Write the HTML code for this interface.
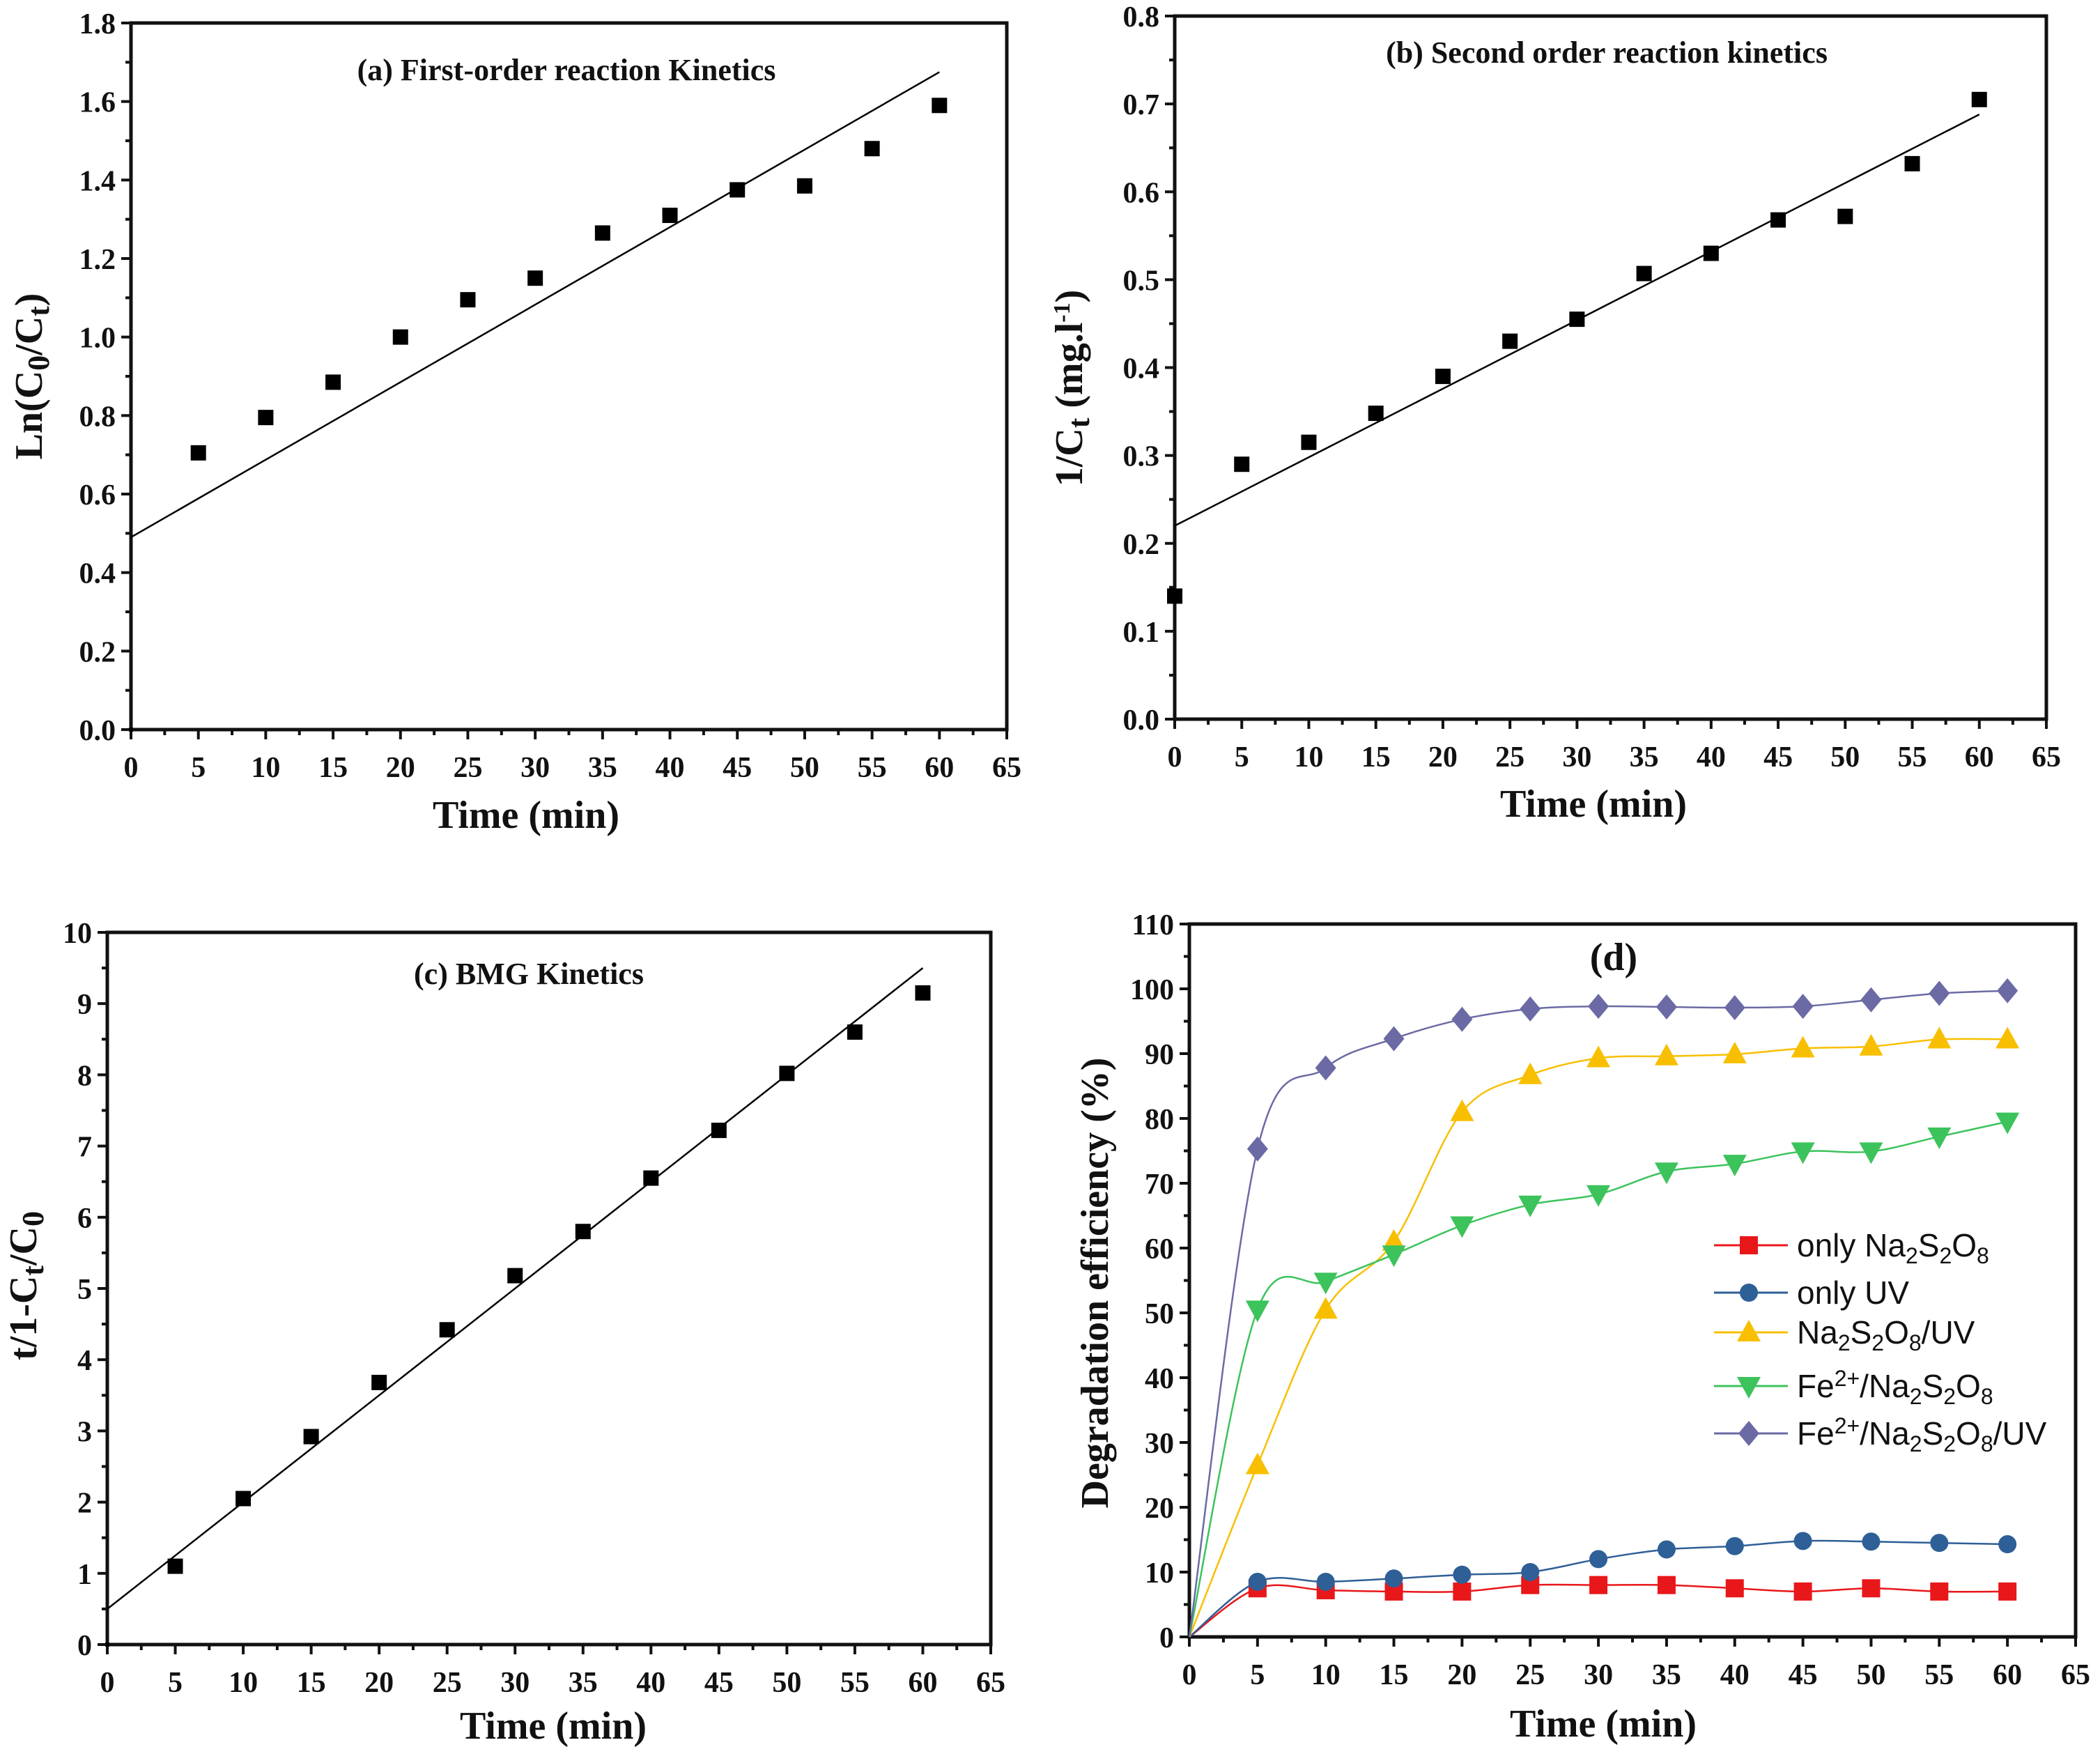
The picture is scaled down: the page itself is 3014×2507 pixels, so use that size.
<!DOCTYPE html>
<html><head><meta charset="utf-8">
<style>
html,body{margin:0;padding:0;background:#fff;}
svg{display:block;}
.tk{font-family:"Liberation Serif",serif;font-weight:bold;font-size:42px;fill:#111;}
.ax{font-family:"Liberation Serif",serif;font-weight:bold;font-size:56px;fill:#111;}
.ti{font-family:"Liberation Serif",serif;font-weight:bold;font-size:44px;fill:#111;}
.lg{font-family:"Liberation Sans",sans-serif;font-size:46px;fill:#111;}
</style></head>
<body>
<svg id="fig" width="3014" height="2507" viewBox="0 0 3014 2507" xmlns="http://www.w3.org/2000/svg"></svg>
<script>
// ---- data ----
const timeA = [0,5,10,15,20,25,30,35,40,45,50,55,60];
const valuesA = [0,0.705,0.795,0.885,1.0,1.095,1.15,1.265,1.31,1.375,1.385,1.48,1.59];
const fitA = [0.49,1.675];
const timeB = [0,5,10,15,20,25,30,35,40,45,50,55,60];
const valuesB = [0.14,0.29,0.315,0.348,0.39,0.43,0.455,0.507,0.53,0.568,0.572,0.632,0.705];
const fitB = [0.22,0.688];
const timeC = [0,5,10,15,20,25,30,35,40,45,50,55,60];
const valuesC = [0,1.1,2.05,2.92,3.68,4.42,5.18,5.8,6.55,7.22,8.02,8.6,9.15];
const fitC = [0.5,9.5];
const timeD = [0,5,10,15,20,25,30,35,40,45,50,55,60];
const onlyNa = [0,7.5,7.2,7,7,8,8,8,7.5,7,7.5,7,7];
const onlyUV = [0,8.5,8.5,9,9.6,10,12,13.5,14,14.8,14.7,14.5,14.3];
const naUV = [0,26.5,50.5,61,81,86.7,89.3,89.6,89.9,90.8,91.1,92.2,92.2];
const feNa = [0,50.5,54.8,59,63.5,66.7,68.3,71.8,73,74.9,74.9,77.2,79.5];
const feNaUV = [0,75.3,87.8,92.3,95.3,96.9,97.3,97.2,97.1,97.3,98.3,99.3,99.7];
const xTicks = [0,5,10,15,20,25,30,35,40,45,50,55,60,65];
const yTicksA = [0,0.2,0.4,0.6,0.8,1.0,1.2,1.4,1.6,1.8];
const yTicksB = [0,0.1,0.2,0.3,0.4,0.5,0.6,0.7,0.8];
const yTicksC = [0,1,2,3,4,5,6,7,8,9,10];
const yTicksD = [0,10,20,30,40,50,60,70,80,90,100,110];

const NS="http://www.w3.org/2000/svg";
const fig=document.getElementById('fig');
function mk(tag,attrs,parent,text){const e=document.createElementNS(NS,tag);for(const k in attrs)e.setAttribute(k,attrs[k]);if(text!==undefined)e.textContent=text;(parent||fig).appendChild(e);return e;}

function panel(id,L,R,T,B,xmax,ymax,yt,ydec){
  const g=mk('g',{});
  
  
  const sx=v=>L+(R-L)*v/xmax, sy=v=>B-(B-T)*v/ymax;
  const fr=mk('rect',{x:L,y:T,width:R-L,height:B-T,fill:'none',stroke:'#111','stroke-width':5},g);
  
  
  xTicks.forEach(v=>{
    mk('line',{x1:sx(v),x2:sx(v),y1:B,y2:B+14,stroke:'#111','stroke-width':4},g);
    if(v<65) mk('line',{x1:sx(v+2.5),x2:sx(v+2.5),y1:B,y2:B+8,stroke:'#111','stroke-width':4},g);
    const t=mk('text',{x:sx(v),y:B+68,'text-anchor':'middle',class:'tk'},g,String(v));
    
    
  });
  const step=yt[1]-yt[0];
  yt.forEach((v,i)=>{
    mk('line',{x1:L-14,x2:L,y1:sy(v),y2:sy(v),stroke:'#111','stroke-width':4},g);
    if(i<yt.length-1) mk('line',{x1:L-8,x2:L,y1:sy(v+step/2),y2:sy(v+step/2),stroke:'#111','stroke-width':4},g);
    const t=mk('text',{x:L-22,y:sy(v)+15,'text-anchor':'end',class:'tk'},g,v.toFixed(ydec));
    
    
  });
  return {g,sx,sy};
}
function squares(p,xs,ys,name){
  xs.forEach((x,i)=>{
    const s=(i===0&&ys[i]===0)?6:22;
    const r=mk('rect',{x:p.sx(x)-s/2,y:p.sy(ys[i])-s/2,width:s,height:s,fill:'#000'},p.g);
    
    
  });
}
function fit(p,f,name){
  const l=mk('line',{x1:p.sx(0),y1:p.sy(f[0]),x2:p.sx(60),y2:p.sy(f[1]),stroke:'#000','stroke-width':2.5},p.g);
  
  
}
function label(p,x,y,txt,cls,rot,name){
  const t=mk('text',{x:x,y:y,'text-anchor':'middle',class:cls},p.g);
  if(rot) t.setAttribute('transform','rotate(-90 '+x+' '+y+')');
  t.innerHTML=txt;
  
  
  return t;
}

// Panel a
const pa=panel('panel-a',188,1445,33,1047,65,1.8,yTicksA,1);
fit(pa,fitA,'fit-line-a'); squares(pa,timeA,valuesA,'point-a');
label(pa,813,115,'(a)  First-order reaction Kinetics','ti',false,'title-a');
label(pa,755,1188,'Time (min)','ax',false,'x-axis-title-a');
label(pa,60,540,'Ln(C<tspan dy="10" font-size="44">0</tspan><tspan dy="-10">/C</tspan><tspan dy="10" font-size="44">t</tspan><tspan dy="-10">)</tspan>','ax',true,'y-axis-title-a');

// Panel b
const pb=panel('panel-b',1686,2937,23,1032,65,0.8,yTicksB,1);
fit(pb,fitB,'fit-line-b'); squares(pb,timeB,valuesB,'point-b');
label(pb,2306,90,'(b) Second order reaction kinetics','ti',false,'title-b');
label(pb,2287,1172,'Time (min)','ax',false,'x-axis-title-b');
label(pb,1553,557,'1/C<tspan dy="10" font-size="44">t</tspan><tspan dy="-10"> (mg.l</tspan><tspan dy="-18" font-size="34">-1</tspan><tspan dy="18">)</tspan>','ax',true,'y-axis-title-b');

// Panel c
const pc=panel('panel-c',154,1422,1338,2360,65,10,yTicksC,0);
fit(pc,fitC,'fit-line-c'); squares(pc,timeC,valuesC,'point-c');
label(pc,759,1412,'(c) BMG Kinetics','ti',false,'title-c');
label(pc,794,2495,'Time (min)','ax',false,'x-axis-title-c');
label(pc,52,1845,'t/1-C<tspan dy="10" font-size="44">t</tspan><tspan dy="-10">/C</tspan><tspan dy="10" font-size="44">0</tspan>','ax',true,'y-axis-title-c');

// Panel d
const pd=panel('panel-d',1707,2979,1326,2349,65,110,yTicksD,0);
label(pd,2316,1392,'(d)','ax',false,'title-d');
label(pd,2301,2492,'Time (min)','ax',false,'x-axis-title-d');
label(pd,1590,1841,'Degradation efficiency (%)','ax',true,'y-axis-title-d');

function spline(pts){
  let d='M'+pts[0][0]+','+pts[0][1];
  for(let i=0;i<pts.length-1;i++){
    const p0=pts[i-1]||pts[i],p1=pts[i],p2=pts[i+1],p3=pts[i+2]||p2;
    const c1=[p1[0]+(p2[0]-p0[0])/6,p1[1]+(p2[1]-p0[1])/6];
    const c2=[p2[0]-(p3[0]-p1[0])/6,p2[1]-(p3[1]-p1[1])/6];
    d+=' C'+c1+' '+c2+' '+p2;
  }
  return d;
}
function marker(g,type,x,y,color,name){
  let e;const s=13;
  if(type==='sq') e=mk('rect',{x:x-s,y:y-s,width:2*s,height:2*s,fill:color},g);
  else if(type==='ci') e=mk('circle',{cx:x,cy:y,r:s,fill:color},g);
  else if(type==='up') e=mk('polygon',{points:`${x},${y-18} ${x-17},${y+13} ${x+17},${y+13}`,fill:color},g);
  else if(type==='dn') e=mk('polygon',{points:`${x},${y+18} ${x-17},${y-13} ${x+17},${y-13}`,fill:color},g);
  else e=mk('polygon',{points:`${x},${y-18} ${x+15},${y} ${x},${y+18} ${x-15},${y}`,fill:color},g);
  
  
}
const seriesD=[
  {v:onlyNa,c:'#e8171a',m:'sq',n:'only-na2s2o8',lab:' only Na<tspan dy="10" font-size="32">2</tspan><tspan dy="-10">S</tspan><tspan dy="10" font-size="32">2</tspan><tspan dy="-10">O</tspan><tspan dy="10" font-size="32">8</tspan>',ly:1787},
  {v:onlyUV,c:'#2e5f96',m:'ci',n:'only-uv',lab:'only UV',ly:1855},
  {v:naUV,c:'#f8bf00',m:'up',n:'na2s2o8-uv',lab:'Na<tspan dy="10" font-size="32">2</tspan><tspan dy="-10">S</tspan><tspan dy="10" font-size="32">2</tspan><tspan dy="-10">O</tspan><tspan dy="10" font-size="32">8</tspan><tspan dy="-10">/UV</tspan>',ly:1912},
  {v:feNa,c:'#3cc35c',m:'dn',n:'fe-na2s2o8',lab:'Fe<tspan dy="-16" font-size="32">2+</tspan><tspan dy="16">/Na</tspan><tspan dy="10" font-size="32">2</tspan><tspan dy="-10">S</tspan><tspan dy="10" font-size="32">2</tspan><tspan dy="-10">O</tspan><tspan dy="10" font-size="32">8</tspan>',ly:1989},
  {v:feNaUV,c:'#6b6aa4',m:'di',n:'fe-na2s2o8-uv',lab:'Fe<tspan dy="-16" font-size="32">2+</tspan><tspan dy="16">/Na</tspan><tspan dy="10" font-size="32">2</tspan><tspan dy="-10">S</tspan><tspan dy="10" font-size="32">2</tspan><tspan dy="-10">O</tspan><tspan dy="10" font-size="32">8</tspan><tspan dy="-10">/UV</tspan>',ly:2057}
];
seriesD.forEach(s=>{
  const pts=timeD.map((t,i)=>[pd.sx(t),pd.sy(s.v[i])]);
  const path=mk('path',{d:spline(pts),fill:'none',stroke:s.c,'stroke-width':2.5},pd.g);
  
  
  pts.forEach((p,i)=>{ if(i>0) marker(pd.g,s.m,p[0],p[1],s.c,'point-'+s.n); });
  const ll=mk('line',{x1:2460,x2:2566,y1:s.ly,y2:s.ly,stroke:s.c,'stroke-width':3},pd.g);
  
  
  marker(pd.g,s.m,2510,s.ly,s.c,'legend-marker-'+s.n);
  const t=mk('text',{x:2579,y:s.ly+16,class:'lg'},pd.g);
  t.innerHTML=s.lab;
  
  
});
</script>
</body></html>
